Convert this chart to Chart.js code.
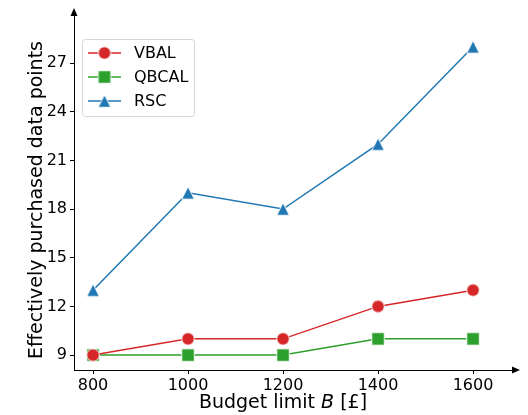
<!DOCTYPE html>
<html>
<head>
<meta charset="utf-8">
<script src="https://cdn.jsdelivr.net/npm/chart.js@4.4.1/dist/chart.umd.min.js"></script>
<style>
  html, body { margin: 0; padding: 0; background: #fff; }
</style>
</head>
<body>
<canvas id="chart" width="528" height="415"></canvas>
<script>
// Budget limits and purchased data points per method
const budgets = [800, 1000, 1200, 1400, 1600];
const vbal = [9, 10, 10, 12, 13];
const qbcal = [9, 9, 9, 10, 10];
const rsc = [13, 19, 18, 22, 28];
const xTicks = [800, 1000, 1200, 1400, 1600];
const yTicks = [9, 12, 15, 18, 21, 24, 27];

const FONT = "'DejaVu Sans', sans-serif";

// Build a small canvas marker (circle, square or triangle) with a white edge
function makeMarker(shape, color) {
    const c = document.createElement('canvas');
    c.width = 16;
    c.height = 16;
    const g = c.getContext('2d');
    const s = 12.5, m = 8;
    g.beginPath();
    if (shape === 'circle') {
        g.arc(m, m, s / 2, 0, Math.PI * 2);
    } else if (shape === 'square') {
        g.rect(m - s / 2, m - s / 2, s, s);
    } else {
        g.moveTo(m, m - s / 2);
        g.lineTo(m + s / 2, m + s / 2);
        g.lineTo(m - s / 2, m + s / 2);
        g.closePath();
    }
    g.fillStyle = color;
    g.fill();
    g.strokeStyle = 'rgba(255,255,255,0.9)';
    g.lineWidth = 1;
    g.stroke();
    return c;
}

function toPoints(values) {
    return budgets.map((b, i) => ({ x: b, y: values[i] }));
}

const series = [
    { label: 'VBAL', values: vbal, color: '#d62728', shape: 'circle' },
    { label: 'QBCAL', values: qbcal, color: '#2ca02c', shape: 'square' },
    { label: 'RSC', values: rsc, color: '#1f77b4', shape: 'triangle' }
];

const datasets = series.map(s => {
    const marker = makeMarker(s.shape, s.color);
    return {
        label: s.label,
        data: toPoints(s.values),
        borderColor: s.color,
        backgroundColor: s.color,
        borderWidth: 1.5,
        pointStyle: marker,
        pointRadius: 7,
        pointHoverRadius: 7,
        tension: 0,
        marker: marker
    };
});

// Arrows on the spines, axis titles and the legend box
const decorations = {
    id: 'decorations',
    afterDraw(chart) {
        const ctx = chart.ctx;
        const a = chart.chartArea;
        ctx.save();

        // arrow heads
        ctx.fillStyle = '#000';
        ctx.beginPath();
        ctx.moveTo(a.left, a.top - 8);
        ctx.lineTo(a.left - 3.5, a.top);
        ctx.lineTo(a.left + 3.5, a.top);
        ctx.closePath();
        ctx.fill();
        ctx.beginPath();
        ctx.moveTo(a.right + 8, a.bottom);
        ctx.lineTo(a.right, a.bottom - 3.5);
        ctx.lineTo(a.right, a.bottom + 3.5);
        ctx.closePath();
        ctx.fill();

        // x axis title with italic B
        ctx.fillStyle = '#000';
        ctx.textBaseline = 'alphabetic';
        const parts = [
            { t: 'Budget limit ', f: '19px ' + FONT },
            { t: 'B', f: 'italic 19px ' + FONT },
            { t: ' [£]', f: '19px ' + FONT }
        ];
        let total = 0;
        parts.forEach(p => { ctx.font = p.f; p.w = ctx.measureText(p.t).width; total += p.w; });
        let x = 283 - total / 2;
        ctx.textAlign = 'left';
        parts.forEach(p => { ctx.font = p.f; ctx.fillText(p.t, x, 408); x += p.w; });

        // y axis title
        ctx.save();
        ctx.translate(42, 200);
        ctx.rotate(-Math.PI / 2);
        ctx.font = '19px ' + FONT;
        ctx.textAlign = 'center';
        ctx.fillText('Effectively purchased data points', 0, 0);
        ctx.restore();

        // legend
        const bx = 82.5, by = 39.5, bw = 112, bh = 77;
        ctx.beginPath();
        ctx.roundRect(bx, by, bw, bh, 3);
        ctx.fillStyle = 'rgba(255,255,255,0.8)';
        ctx.fill();
        ctx.strokeStyle = '#d6d6d6';
        ctx.lineWidth = 1;
        ctx.stroke();

        ctx.font = '16px ' + FONT;
        ctx.textBaseline = 'middle';
        chart.data.datasets.forEach((ds, i) => {
            const ry = 53 + i * 24;
            ctx.beginPath();
            ctx.moveTo(88, ry);
            ctx.lineTo(121, ry);
            ctx.strokeStyle = ds.borderColor;
            ctx.lineWidth = 1.5;
            ctx.stroke();
            ctx.drawImage(ds.marker, 104.5 - 8, ry - 8);
            ctx.fillStyle = '#000';
            ctx.fillText(ds.label, 134, ry + 1);
        });

        ctx.restore();
    }
};

new Chart(document.getElementById('chart'), {
    type: 'line',
    data: { datasets: datasets },
    options: {
        responsive: false,
        animation: false,
        layout: { padding: { left: 0, top: 16, right: 16, bottom: 0 } },
        plugins: {
            legend: { display: false },
            tooltip: { enabled: false }
        },
        scales: {
            x: {
                type: 'linear',
                min: 760,
                max: 1682,
                afterBuildTicks: scale => { scale.ticks = xTicks.map(v => ({ value: v })); },
                afterFit: scale => { scale.height = 45; },
                grid: { drawOnChartArea: false, drawTicks: true, tickLength: 4, color: '#000' },
                border: { display: true, color: '#000', width: 1 },
                ticks: {
                    color: '#000',
                    font: { family: FONT, size: 16 },
                    padding: 2,
                    maxRotation: 0,
                    callback: v => String(v)
                }
            },
            y: {
                type: 'linear',
                min: 8.08,
                max: 29.9,
                afterBuildTicks: scale => { scale.ticks = yTicks.map(v => ({ value: v })); },
                afterFit: scale => { scale.width = 74; },
                grid: { drawOnChartArea: false, drawTicks: true, tickLength: 4, color: '#000' },
                border: { display: true, color: '#000', width: 1 },
                ticks: {
                    color: '#000',
                    font: { family: FONT, size: 16 },
                    padding: 3,
                    callback: v => String(v)
                }
            }
        }
    },
    plugins: [decorations]
});
</script>
</body>
</html>
